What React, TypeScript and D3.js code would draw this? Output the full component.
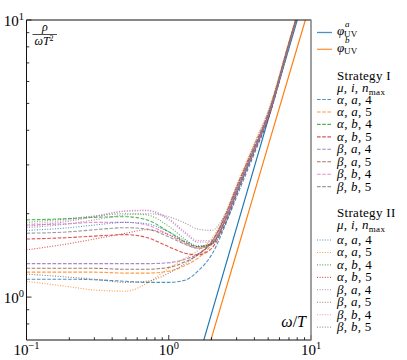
import { useEffect, useRef } from "react";
import * as d3 from "d3";

// omega/T grid shared by all lattice curves
const omega = [0.1, 0.2, 0.3, 0.5, 0.7, 1.0, 1.3, 1.6, 2.0, 2.5, 3, 4, 5, 7, 10];

// UV asymptotes
const uvOmega = [1.6, 2, 3, 5, 8, 10];
const uvA = [0.59, 0.873, 1.78, 4.38, 10.0, 14.8];
const uvB = [0.48, 0.714, 1.445, 3.52, 7.96, 11.7];

// legend params
const muList = ["α", "α", "α", "α", "β", "β", "β", "β"];
const iList = ["a", "a", "b", "b", "a", "a", "b", "b"];
const nmaxList = [4, 5, 4, 5, 4, 5, 4, 5];

// Strategy I (dashed)
const s1 = [
  [1.16, 1.16, 1.155, 1.14, 1.13, 1.13, 1.15, 1.24, 1.42, 1.82, 2.3, 3.3, 4.4, 8.1, 15.5],
  [1.23, 1.23, 1.23, 1.22, 1.22, 1.24, 1.3, 1.38, 1.55, 1.92, 2.4, 3.4, 4.5, 8.2, 15.5],
  [1.9, 1.92, 1.94, 1.95, 1.9, 1.72, 1.58, 1.52, 1.56, 1.9, 2.4, 3.4, 4.5, 8.1, 15.3],
  [1.62, 1.64, 1.66, 1.68, 1.64, 1.52, 1.44, 1.42, 1.5, 1.85, 2.35, 3.35, 4.4, 8.1, 15.3],
  [1.32, 1.32, 1.32, 1.32, 1.32, 1.33, 1.37, 1.43, 1.58, 1.95, 2.45, 3.45, 4.55, 8.2, 15.4],
  [1.27, 1.27, 1.27, 1.26, 1.26, 1.28, 1.34, 1.42, 1.58, 1.97, 2.5, 3.5, 4.6, 8.3, 15.5],
  [1.82, 1.84, 1.86, 1.86, 1.82, 1.68, 1.56, 1.5, 1.55, 1.9, 2.4, 3.4, 4.5, 8.1, 15.3],
  [1.7, 1.72, 1.75, 1.78, 1.76, 1.65, 1.55, 1.5, 1.55, 1.9, 2.4, 3.4, 4.5, 8.1, 15.3],
];

// Strategy II (dotted)
const s2 = [
  [1.74, 1.78, 1.82, 1.86, 1.84, 1.72, 1.6, 1.53, 1.55, 1.85, 2.35, 3.4, 4.5, 8.2, 15.5],
  [1.14, 1.09, 1.06, 1.05, 1.12, 1.27, 1.38, 1.47, 1.62, 2.0, 2.55, 3.6, 4.7, 8.4, 15.6],
  [1.86, 1.92, 1.96, 2.0, 1.98, 1.8, 1.62, 1.52, 1.55, 1.9, 2.4, 3.4, 4.5, 8.1, 15.3],
  [1.48, 1.56, 1.62, 1.7, 1.75, 1.68, 1.58, 1.52, 1.56, 1.9, 2.45, 3.45, 4.55, 8.2, 15.4],
  [1.8, 1.88, 1.95, 2.04, 2.05, 1.9, 1.7, 1.58, 1.58, 1.9, 2.4, 3.4, 4.5, 8.1, 15.3],
  [1.21, 1.18, 1.16, 1.13, 1.14, 1.22, 1.32, 1.42, 1.58, 1.98, 2.5, 3.55, 4.65, 8.3, 15.5],
  [1.83, 1.9, 1.96, 2.05, 2.06, 1.92, 1.72, 1.6, 1.6, 1.92, 2.42, 3.4, 4.5, 8.1, 15.3],
  [1.78, 1.84, 1.9, 1.98, 2.0, 1.95, 1.85, 1.76, 1.74, 2.0, 2.5, 3.5, 4.6, 8.2, 15.4],
];

const xMajor = [0.1, 1, 10];
const xMajorExp = ["−1", "0", "1"];
const yMajor = [1, 10];
const yMajorExp = ["0", "1"];

const colors = ["#1f77b4", "#ff7f0e", "#2ca02c", "#d62728", "#9467bd", "#8c564b", "#e377c2", "#7f7f7f"];
const FONT = "'Liberation Serif', 'DejaVu Serif', serif";

export default function App() {
  const ref = useRef<SVGSVGElement>(null);

  useEffect(() => {
    document.body.style.margin = "0";
    const svg = d3.select(ref.current);
    svg.selectAll("*").remove();

    const left = 26.5, right = 311, top = 20, bottom = 340;
    const x = d3.scaleLog().domain([0.1, 10]).range([left, right]);
    const y = d3.scaleLog().domain([0.7, 10]).range([bottom, top]);

    svg.append("defs").append("clipPath").attr("id", "plotclip")
      .append("rect").attr("x", left).attr("y", top).attr("width", right - left).attr("height", bottom - top);

    const line = d3.line<[number, number]>()
      .x((d) => x(d[0]))
      .y((d) => y(d[1]))
      .curve(d3.curveMonotoneX);

    const plot = svg.append("g").attr("clip-path", "url(#plotclip)");

    plot.append("path")
      .attr("d", line(uvOmega.map((w, i) => [w, uvA[i]] as [number, number])))
      .attr("fill", "none").attr("stroke", colors[0]).attr("stroke-width", 1.2);
    plot.append("path")
      .attr("d", line(uvOmega.map((w, i) => [w, uvB[i]] as [number, number])))
      .attr("fill", "none").attr("stroke", colors[1]).attr("stroke-width", 1.2);

    s1.forEach((vals, k) => {
      plot.append("path")
        .attr("d", line(omega.map((w, i) => [w, vals[i]] as [number, number])))
        .attr("fill", "none").attr("stroke", colors[k]).attr("stroke-width", 1.1)
        .attr("stroke-dasharray", "3.6,1.6").attr("opacity", 0.8);
    });
    s2.forEach((vals, k) => {
      plot.append("path")
        .attr("d", line(omega.map((w, i) => [w, vals[i]] as [number, number])))
        .attr("fill", "none").attr("stroke", colors[k]).attr("stroke-width", 1.1)
        .attr("stroke-dasharray", "1,1.6").attr("opacity", 0.8);
    });

    // ticks (inward, left/bottom only)
    const axes = svg.append("g").attr("stroke", "#000").attr("stroke-width", 0.8);
    const xMinor: number[] = [];
    [0.1, 1].forEach((d) => d3.range(2, 10).forEach((k) => xMinor.push(d * k)));
    xMajor.forEach((v) => axes.append("line").attr("x1", x(v)).attr("x2", x(v)).attr("y1", bottom).attr("y2", bottom - 5));
    xMinor.forEach((v) => axes.append("line").attr("x1", x(v)).attr("x2", x(v)).attr("y1", bottom).attr("y2", bottom - 2.8));
    const yMinor = [0.8, 0.9, 2, 3, 4, 5, 6, 7, 8, 9];
    yMajor.forEach((v) => axes.append("line").attr("x1", left).attr("x2", left + 5).attr("y1", y(v)).attr("y2", y(v)));
    yMinor.forEach((v) => axes.append("line").attr("x1", left).attr("x2", left + 2.8).attr("y1", y(v)).attr("y2", y(v)));

    // frame
    svg.append("path")
      .attr("d", `M${right},${top}H${left}V${bottom}H${right}`)
      .attr("fill", "none").attr("stroke", "#111").attr("stroke-width", 1);
    svg.append("line").attr("x1", right).attr("x2", right).attr("y1", top - 0.5).attr("y2", bottom + 0.5)
      .attr("stroke", "#888").attr("stroke-width", 1.6);

    // tick labels
    xMajor.forEach((v, i) => {
      const t = svg.append("text").attr("x", x(v)).attr("y", 355).attr("text-anchor", "middle")
        .attr("font-family", FONT).attr("font-size", 15);
      t.append("tspan").text("10");
      t.append("tspan").attr("dy", -6).attr("font-size", 10.5).text(xMajorExp[i]);
    });
    yMajor.forEach((v, i) => {
      const t = svg.append("text").attr("x", 24).attr("y", y(v) + 6).attr("text-anchor", "end")
        .attr("font-family", FONT).attr("font-size", 15);
      t.append("tspan").text("10");
      t.append("tspan").attr("dy", -6).attr("font-size", 10.5).text(yMajorExp[i]);
    });

    // y label as fraction
    const fr = svg.append("g").attr("font-family", FONT).attr("font-size", 12).attr("font-style", "italic");
    fr.append("text").attr("x", 45).attr("y", 31).attr("text-anchor", "middle").text("ρ");
    fr.append("line").attr("x1", 32.5).attr("x2", 57).attr("y1", 34.5).attr("y2", 34.5).attr("stroke", "#000").attr("stroke-width", 0.7);
    const den = fr.append("text").attr("x", 44).attr("y", 45).attr("text-anchor", "middle");
    den.append("tspan").text("ωT");
    den.append("tspan").attr("dy", -4).attr("font-size", 8).attr("font-style", "normal").text("2");

    // x label
    const xl = svg.append("text").attr("x", 306).attr("y", 327).attr("text-anchor", "end")
      .attr("font-family", FONT).attr("font-size", 16);
    xl.append("tspan").attr("font-style", "italic").text("ω");
    xl.append("tspan").text("/");
    xl.append("tspan").attr("font-style", "italic").text("T");

    // legend
    const lg = svg.append("g").attr("font-family", FONT).attr("font-size", 13).attr("letter-spacing", 0.3);
    const hx0 = 317, hx1 = 332, tx = 337;

    [["a", 32.5], ["b", 49.3]].forEach(([s, cy], k) => {
      const c = cy as number;
      lg.append("line").attr("x1", hx0).attr("x2", hx1).attr("y1", c).attr("y2", c)
        .attr("stroke", colors[k]).attr("stroke-width", 1.3).attr("opacity", 0.8);
      lg.append("text").attr("x", tx).attr("y", c + 2.5).attr("font-style", "italic").attr("font-size", 13).text("φ");
      lg.append("text").attr("x", tx + 8).attr("y", c - 6).attr("font-style", "italic").attr("font-size", 9).text(s as string);
      lg.append("text").attr("x", tx + 7).attr("y", c + 4.5).attr("font-size", 9).text("UV");
    });

    const header = (title: string, cy: number) => {
      lg.append("text").attr("x", tx).attr("y", cy + 4).text(title);
      const t = lg.append("text").attr("x", tx).attr("y", cy + 16);
      t.append("tspan").attr("font-style", "italic").text("μ");
      t.append("tspan").text(", ");
      t.append("tspan").attr("font-style", "italic").text("i");
      t.append("tspan").text(", ");
      t.append("tspan").attr("font-style", "italic").text("n");
      t.append("tspan").attr("font-size", 9).attr("dy", 2.5).text("max");
    };

    const entries = (y0: number, dash: string) => {
      muList.forEach((mu, k) => {
        const cy = y0 + k * 12.45;
        lg.append("line").attr("x1", hx0).attr("x2", hx1).attr("y1", cy).attr("y2", cy)
          .attr("stroke", colors[k]).attr("stroke-width", 1.1).attr("stroke-dasharray", dash).attr("opacity", 0.8);
        const t = lg.append("text").attr("x", tx).attr("y", cy + 4);
        t.append("tspan").attr("font-style", "italic").text(mu);
        t.append("tspan").text(", ");
        t.append("tspan").attr("font-style", "italic").text(iList[k]);
        t.append("tspan").text(", " + nmaxList[k]);
      });
    };

    header("Strategy I", 76);
    entries(99.5, "3.6,1.6");
    header("Strategy II", 213);
    entries(240, "1,1.6");
  }, []);

  return <svg ref={ref} width={407} height={360} style={{ display: "block" }} />;
}
